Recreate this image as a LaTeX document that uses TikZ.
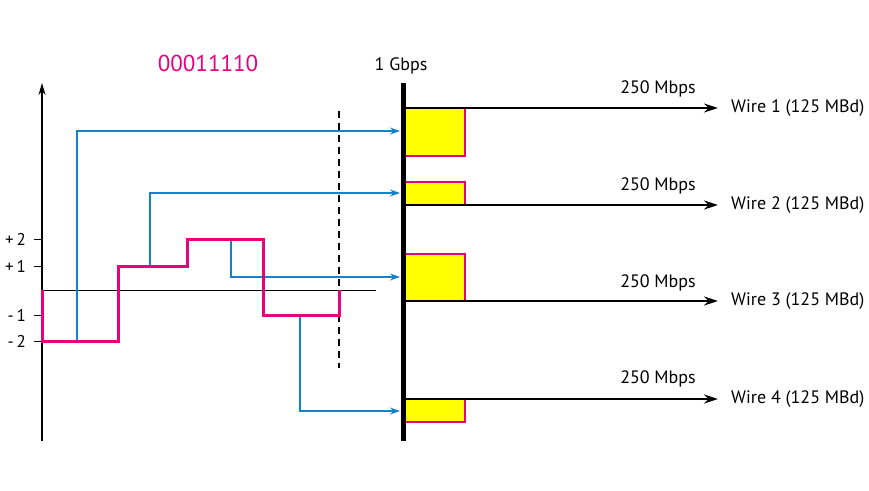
\documentclass[tikz,border=0pt]{standalone}
\usepackage{fontspec}
\setmainfont{PT Sans}
\usepackage{tikz}
\usetikzlibrary{arrows,arrows.meta,calc,positioning}
\definecolor{sigpink}{RGB}{232,0,125}
\definecolor{tapblue}{RGB}{20,130,200}
\definecolor{slotyellow}{RGB}{255,255,0}
\tikzset{%
	slot/.style     = {draw=sigpink, line width=2pt, fill=slotyellow, rectangle, minimum width=62pt, inner sep=0pt, outer sep=0pt, anchor=north west},
	wire/.style     = {anchor=west, inner sep=3pt, font=\fontsize{18}{21}\selectfont},
	rate/.style     = {font=\fontsize{18}{21}\selectfont},
	level/.style    = {anchor=east, inner sep=0pt, font=\fontsize{17}{20}\selectfont},
	tap/.style      = {draw=tapblue, line width=1.2pt, -{Stealth[length=10pt,width=7pt]}},
	wirearrow/.style = {draw, line width=1.5pt, -{Stealth[length=14pt,width=9pt]}, shorten >=10pt},
	signal/.style   = {draw=sigpink, line width=3pt, line join=miter},
}

\begin{document}
\begin{tikzpicture}[x=1pt,y=-1pt]
	\useasboundingbox (0,0) rectangle (869,490);
	% axis and levels
	\draw[line width=1.2pt, -{Stealth[length=12pt,width=7pt]}] (42,441) -- (42,83);
	\draw[line width=1pt] (42,290) -- (376,290);
	\foreach \y/\t in {239/+\,2, 266/+\,1, 315/-\,1, 341/-\,2} {
		\draw[line width=1pt] (34,\y) -- (42,\y);
		\node[level] at (26,\y) {\t};
	}
	\draw[line width=1.2pt, dash pattern=on 7pt off 5pt] (339,111) -- (339,368);
	\node[text=sigpink, font=\fontsize{23}{27}\selectfont] (bits) at (208,63) {00011110};
	% slots on the link
	\node[slot, minimum height=48pt] (b1) at (403,108) {};
	\node[slot, minimum height=23pt] (b2) at (403,182) {};
	\node[slot, minimum height=47pt] (b3) at (403,254) {};
	\node[slot, minimum height=23pt] (b4) at (403,399) {};
	\draw[line width=5pt] (403,83) coordinate (top) -- (403,441) coordinate (bot);
	\node[rate] (gb) at (401,66) {1 Gbps};
	% wires
	\node[wire] (w1) at (728,108) {Wire 1 (125 MBd)};
	\node[wire] (w2) at (728,205) {Wire 2 (125 MBd)};
	\node[wire] (w3) at (728,301) {Wire 3 (125 MBd)};
	\node[wire] (w4) at (728,399) {Wire 4 (125 MBd)};
	\node[rate] (r1) at (658,89) {250 Mbps};
	\node[rate] (r2) at (658,186) {250 Mbps};
	\node[rate] (r3) at (658,283) {250 Mbps};
	\node[rate] (r4) at (658,379) {250 Mbps};
	\draw[wirearrow] (b1.north west) -- (w1.west);
	\draw[wirearrow] (b2.south west) -- (w2.west);
	\draw[wirearrow] (b3.south west) -- (w3.west);
	\draw[wirearrow] (b4.north west) -- (w4.west);
	% taps from the signal
	\coordinate (s1) at (77,341);
	\coordinate (s2) at (150,266);
	\coordinate (s3) at (231,239);
	\coordinate (s4) at (300,315);
	\coordinate (e1) at (400,131);
	\coordinate (e2) at (400,193);
	\coordinate (e3) at (400,277);
	\coordinate (e4) at (400,411);
	\draw[tap] (s1) |- (e1);
	\draw[tap] (s2) |- (e2);
	\draw[tap] (s3) |- (e3);
	\draw[tap] (s4) |- (e4);
	% the signal
	\draw[signal] (42,290) -- (42,341) -- (118,341) -- (118,266) -- (187,266) -- (187,239)
		-- (263,239) -- (263,315) -- (339,315) -- (339,290);
\end{tikzpicture}
\end{document}
